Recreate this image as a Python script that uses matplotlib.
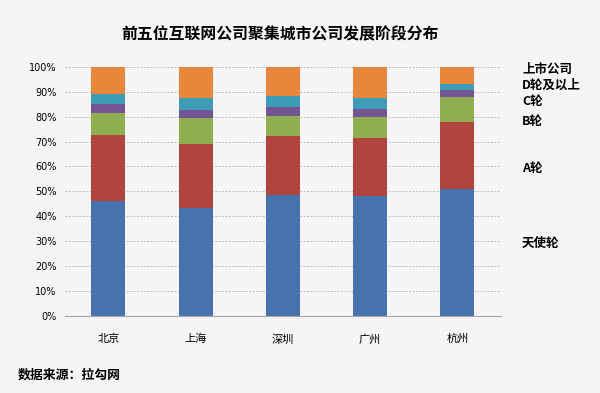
import numpy as np
import matplotlib
matplotlib.use("Agg")
import matplotlib.pyplot as plt

plt.rcParams['font.family'] = ['Noto Sans CJK SC', 'DejaVu Sans']

# 数据
cities = ["北京", "上海", "深圳", "广州", "杭州"]
stages = ["天使轮", "A轮", "B轮", "C轮", "D轮及以上", "上市公司"]
angel = [46.3, 43.2, 48.7, 48.3, 50.9]
round_a = [26.4, 25.9, 23.7, 23.1, 26.9]
round_b = [8.8, 10.4, 7.9, 8.4, 10.2]
round_c = [3.6, 3.2, 3.4, 3.1, 2.6]
round_d = [3.9, 4.9, 4.7, 4.7, 2.6]
listed = [11.0, 12.4, 11.6, 12.4, 6.8]

series = [angel, round_a, round_b, round_c, round_d, listed]
colors = ["#4672AE", "#B24440", "#8FAE52", "#735594", "#3F9CB8", "#E8873C"]
label_y = [243, 168, 121, 102, 85, 69]  # 右侧标签位置（像素）

bg = "#F7F4F7"
fig = plt.figure(figsize=(6, 3.93), dpi=100, facecolor=bg)
ax = fig.add_axes([0.108, 0.196, 0.727, 0.634], facecolor=bg)

x = np.arange(len(cities))
bottom = np.zeros(len(cities))
for vals, c in zip(series, colors):
    ax.bar(x, vals, width=0.39, bottom=bottom, color=c, zorder=3)
    bottom += np.array(vals)

ax.set_xlim(-0.5, len(cities) - 0.5)
ax.set_ylim(0, 100)
ax.set_yticks(np.arange(0, 101, 10))
ax.set_yticklabels([f"{v}%" for v in range(0, 101, 10)], fontsize=7, family=['DejaVu Sans'])
ax.set_xticks(x)
ax.set_xticklabels(cities, fontsize=8)
ax.tick_params(axis='x', length=0, pad=13)
ax.tick_params(axis='y', length=0, pad=6)
ax.yaxis.grid(True, linestyle=(0, (2, 1.5)), color="#BDBDBD", linewidth=0.7, zorder=0)
for s in ["left", "right", "top"]:
    ax.spines[s].set_visible(False)
ax.spines["bottom"].set_color("#A6A6A6")
ax.spines["bottom"].set_zorder(4)

for name, py in zip(stages, label_y):
    fig.text(522 / 600, 1 - py / 393, name, fontsize=9, fontweight="bold",
             va="center", ha="left")

fig.text(280 / 600, 1 - 34 / 393, "前五位互联网公司聚集城市公司发展阶段分布",
         fontsize=11.4, fontweight="bold", ha="center", va="center")
fig.text(18 / 600, 1 - 375 / 393, "数据来源：拉勾网", fontsize=9.3,
         fontweight="bold", ha="left", va="center")

fig.savefig("out.png", dpi=100, facecolor=bg)
